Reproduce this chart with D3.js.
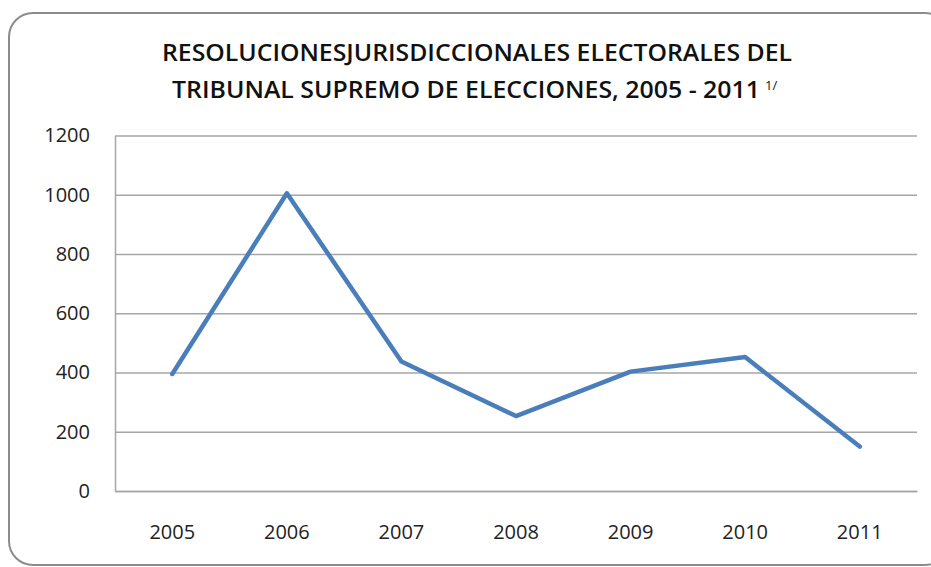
<!DOCTYPE html>
<html>
<head>
<meta charset="utf-8">
<script src="https://cdn.jsdelivr.net/npm/d3@7"></script>
<style>
  body { margin: 0; background: #fff; }
  text { font-family: "Open Sans", sans-serif; }
</style>
</head>
<body>
<div id="chart"></div>
<script>
// chart data
let years = ["2005", "2006", "2007", "2008", "2009", "2010", "2011"];
let resoluciones = [395, 1005, 437, 253, 403, 452, 150];
let yTicks = [0, 200, 400, 600, 800, 1000, 1200];
let titleLines = [
  "RESOLUCIONESJURISDICCIONALES  ELECTORALES DEL",
  "TRIBUNAL SUPREMO DE ELECCIONES, 2005 - 2011"
];

let svgWidth = 931;
let svgHeight = 567;

let margin = { top: 135.5, right: 14, bottom: 76, left: 115 };
let width = svgWidth - margin.left - margin.right;
let height = svgHeight - margin.top - margin.bottom;

let svg = d3.select("#chart")
  .append("svg")
  .attr("width", svgWidth)
  .attr("height", svgHeight);

// outer rounded frame
svg.append("rect")
  .attr("x", 9)
  .attr("y", 13)
  .attr("width", 940)
  .attr("height", 552)
  .attr("rx", 24)
  .attr("fill", "none")
  .attr("stroke", "#8c8c8c")
  .attr("stroke-width", 2);

// title (narrowed to mimic the condensed original face)
svg.append("text")
  .attr("x", 162).attr("y", 61)
  .attr("font-weight", 600)
  .attr("font-size", 23)
  .attr("fill", "#111")
  .attr("textLength", 630)
  .attr("lengthAdjust", "spacingAndGlyphs")
  .text(titleLines[0]);
svg.append("text")
  .attr("x", 172).attr("y", 98)
  .attr("font-weight", 600)
  .attr("font-size", 23)
  .attr("fill", "#111")
  .attr("textLength", 588)
  .attr("lengthAdjust", "spacingAndGlyphs")
  .text(titleLines[1]);
svg.append("text")
  .attr("x", 765).attr("y", 90)
  .attr("font-size", 13)
  .attr("fill", "#111")
  .text("1/");

let chartGroup = svg.append("g")
  .attr("transform", `translate(${margin.left}, ${margin.top})`);

// scales
let xScale = d3.scaleBand()
  .domain(years)
  .range([0, width]);

let yScale = d3.scaleLinear()
  .domain([0, 1200])
  .range([height, 0]);

// gridlines
chartGroup.append("g")
  .call(d3.axisLeft(yScale).tickValues(yTicks).tickSize(-width).tickFormat(""))
  .call(g => g.select(".domain").remove())
  .selectAll("line")
  .attr("stroke", "#a6a6a6")
  .attr("stroke-width", 1.5);

// y axis
let yAxis = chartGroup.append("g")
  .call(d3.axisLeft(yScale).tickValues(yTicks).tickSize(0).tickPadding(25).tickFormat(d3.format("d")));
yAxis.select(".domain").attr("stroke", "#a6a6a6").attr("stroke-width", 1.5);
yAxis.selectAll("text")
  .attr("font-size", 20)
  .attr("fill", "#222")
  .style("font-family", "'Open Sans', sans-serif");

// x axis
let xAxis = chartGroup.append("g")
  .attr("transform", `translate(0,${height})`)
  .call(d3.axisBottom(xScale).tickSize(0).tickPadding(34));
xAxis.select(".domain").attr("stroke", "#a6a6a6").attr("stroke-width", 1.5);
xAxis.selectAll("text")
  .attr("font-size", 20)
  .attr("fill", "#222")
  .style("font-family", "'Open Sans', sans-serif");

// the line
let line = d3.line()
  .x((d, i) => xScale(years[i]) + xScale.bandwidth() / 2)
  .y(d => yScale(d));

chartGroup.append("path")
  .datum(resoluciones)
  .attr("d", line)
  .attr("fill", "none")
  .attr("stroke", "#4a7ebb")
  .attr("stroke-width", 4.5)
  .attr("stroke-linejoin", "round")
  .attr("stroke-linecap", "round");
</script>
</body>
</html>
